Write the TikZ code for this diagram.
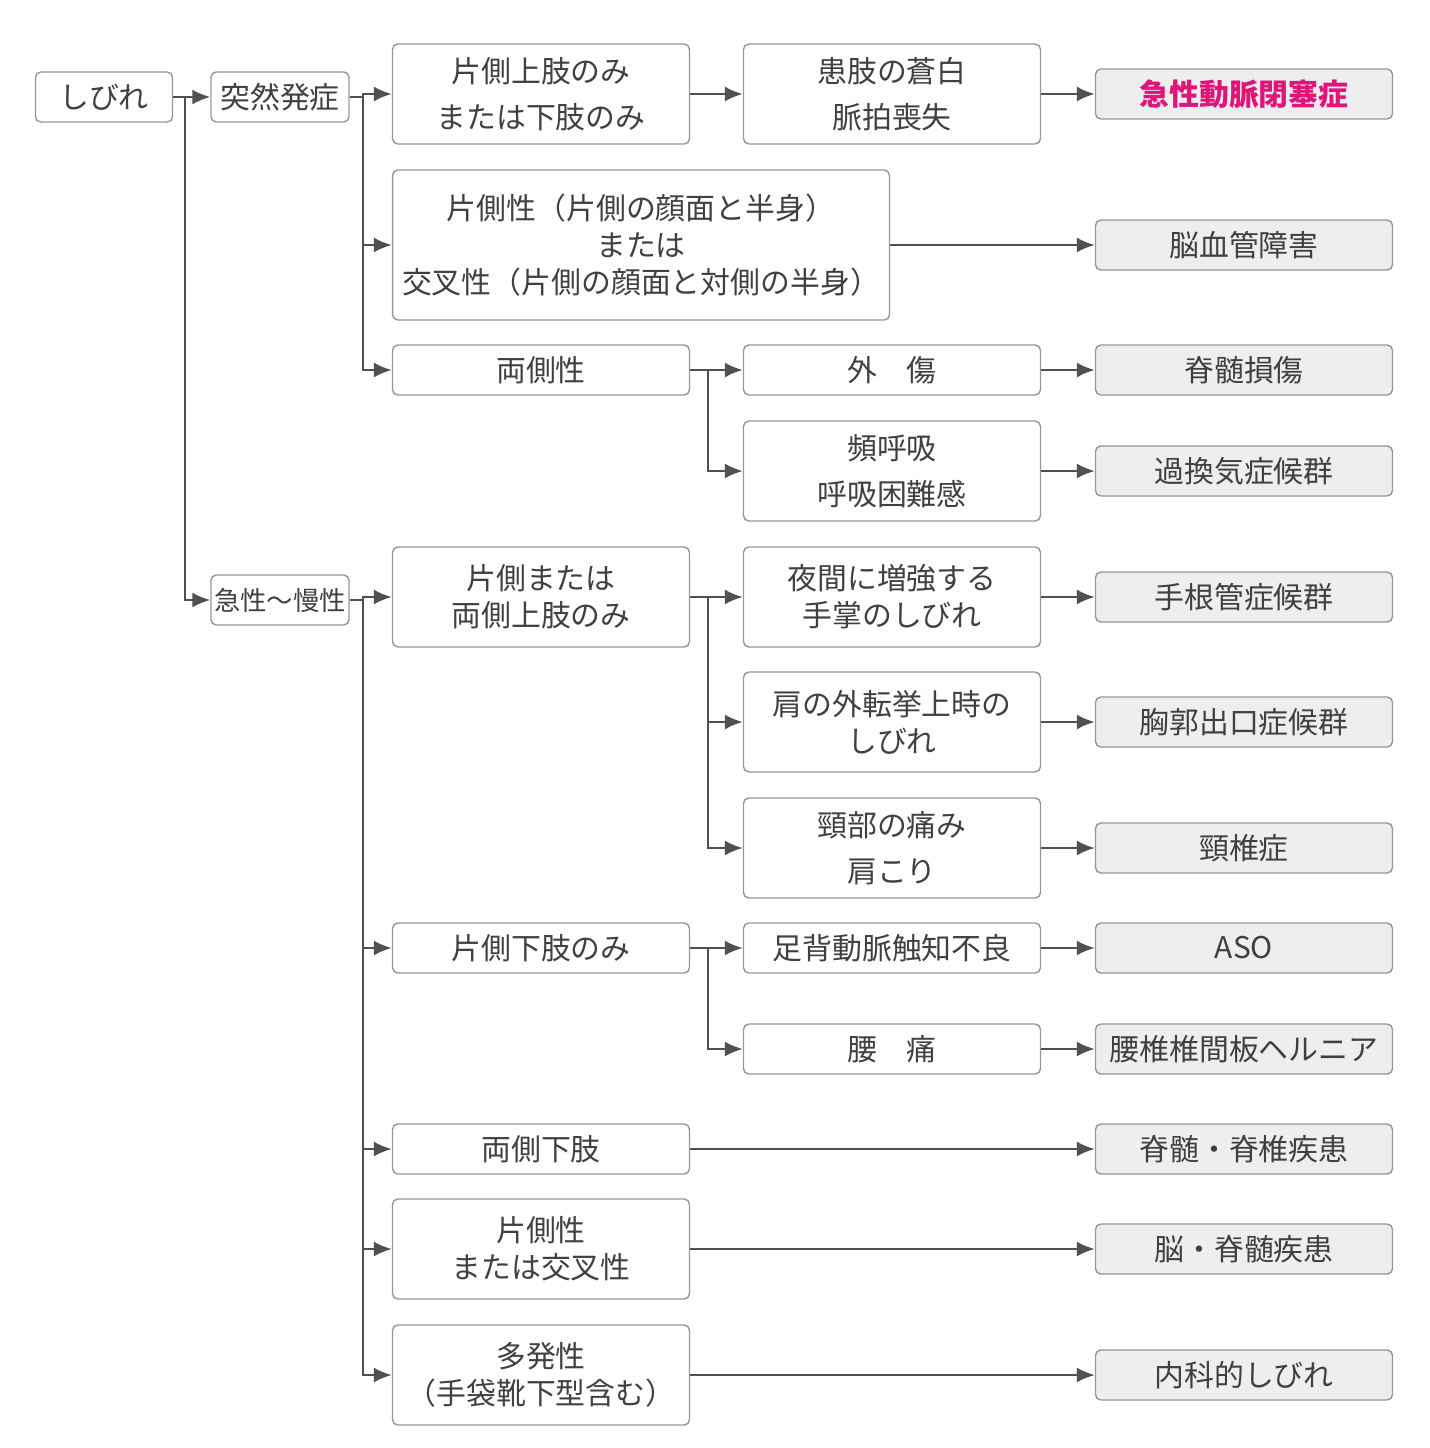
\documentclass[tikz,border=0pt]{standalone}
\usepackage{fontspec}
\setmainfont{Noto Sans CJK JP}
\usetikzlibrary{arrows.meta}
\definecolor{linegray}{RGB}{80,80,80}
\definecolor{boxgray}{RGB}{150,150,150}
\definecolor{resfill}{RGB}{238,238,238}
\definecolor{alert}{RGB}{224,21,122}
\tikzset{
	box/.style={rectangle, draw=boxgray, thick, rounded corners=3pt, align=center, text=black!75, font=\fontsize{17}{26}\selectfont},
	colbox/.style={box, minimum width=5.94cm, minimum height=1cm},
	tallbox/.style={colbox, minimum height=2cm},
	resbox/.style={colbox, fill=resfill},
	arr/.style={-{Latex[length=3.6mm,width=3mm]}, linegray, line width=1.3pt}
}
\begin{document}
\begin{tikzpicture}[x=0.02cm, y=-0.02cm]
		\useasboundingbox (0,0) rectangle (1430,1448);
		\node[box, minimum width=2.74cm, minimum height=1cm] at (104,97) (root) {しびれ};
		\node[box, minimum width=2.76cm, minimum height=1cm, inner sep=1pt] at (280,97) (sudden) {突然発症};
		\node[box, minimum width=2.76cm, minimum height=1cm, inner sep=1pt, font=\fontsize{15}{20}\selectfont] at (280,600) (chronic) {急性〜慢性};
		%second column
		\node[tallbox] at (541,94) (limb) {片側上肢のみ\\または下肢のみ};
		\node[box, minimum width=9.94cm, minimum height=3cm, font=\fontsize{17}{21}\selectfont] at (641,245) (hemi) {片側性（片側の顔面と半身）\\または\\交叉性（片側の顔面と対側の半身）};
		\node[colbox] at (541,370) (bilat) {両側性};
		\node[tallbox, font=\fontsize{17}{21}\selectfont] at (541,597) (upper) {片側または\\両側上肢のみ};
		\node[colbox] at (541,948) (lower) {片側下肢のみ};
		\node[colbox] at (541,1149) (bilower) {両側下肢};
		\node[tallbox, font=\fontsize{17}{21}\selectfont] at (541,1249) (cross) {片側性\\または交叉性};
		\node[tallbox, font=\fontsize{17}{21}\selectfont] at (541,1375) (multi) {多発性\\（手袋靴下型含む）};
		%third column
		\node[tallbox] at (892,94) (pale) {患肢の蒼白\\脈拍喪失};
		\node[colbox] at (892,370) (trauma) {外\quad 傷};
		\node[tallbox] at (892,471) (breath) {頻呼吸\\呼吸困難感};
		\node[tallbox, font=\fontsize{17}{21}\selectfont] at (892,597) (night) {夜間に増強する\\手掌のしびれ};
		\node[tallbox, font=\fontsize{17}{21}\selectfont] at (892,722) (shoulder) {肩の外転挙上時の\\しびれ};
		\node[tallbox] at (892,848) (neck) {頸部の痛み\\肩こり};
		\node[colbox] at (892,948) (pulse) {足背動脈触知不良};
		\node[colbox] at (892,1049) (lumbago) {腰\quad 痛};
		%results
		\node[resbox, text=alert, font=\fontsize{17}{21}\bfseries] at (1244,94) (r1) {急性動脈閉塞症};
		\node[resbox] at (1244,245) (r2) {脳血管障害};
		\node[resbox] at (1244,370) (r3) {脊髄損傷};
		\node[resbox] at (1244,471) (r4) {過換気症候群};
		\node[resbox] at (1244,597) (r5) {手根管症候群};
		\node[resbox] at (1244,722) (r6) {胸郭出口症候群};
		\node[resbox] at (1244,848) (r7) {頸椎症};
		\node[resbox] at (1244,948) (r8) {ASO};
		\node[resbox] at (1244,1049) (r9) {腰椎椎間板ヘルニア};
		\node[resbox] at (1244,1149) (r10) {脊髄・脊椎疾患};
		\node[resbox] at (1244,1249) (r11) {脳・脊髄疾患};
		\node[resbox] at (1244,1375) (r12) {内科的しびれ};
		%Lines
		\draw[arr] (root) -- (sudden);
		\draw[arr] (root.east) -- +(12,0) |- (chronic);
		\foreach \t in {limb,hemi,bilat}
			\draw[arr] (sudden.east) -- +(13,0) |- (\t.west);
		\foreach \t in {upper,lower,bilower,cross,multi}
			\draw[arr] (chronic.east) -- +(13,0) |- (\t.west);
		\draw[arr] (limb) -- (pale);
		\foreach \t in {trauma,breath}
			\draw[arr] (bilat.east) -- +(18,0) |- (\t.west);
		\foreach \t in {night,shoulder,neck}
			\draw[arr] (upper.east) -- +(18,0) |- (\t.west);
		\foreach \t in {pulse,lumbago}
			\draw[arr] (lower.east) -- +(18,0) |- (\t.west);
		\draw[arr] (pale) -- (r1);
		\draw[arr] (hemi) -- (r2);
		\draw[arr] (trauma) -- (r3);
		\draw[arr] (breath) -- (r4);
		\draw[arr] (night) -- (r5);
		\draw[arr] (shoulder) -- (r6);
		\draw[arr] (neck) -- (r7);
		\draw[arr] (pulse) -- (r8);
		\draw[arr] (lumbago) -- (r9);
		\draw[arr] (bilower) -- (r10);
		\draw[arr] (cross) -- (r11);
		\draw[arr] (multi) -- (r12);
	\end{tikzpicture}
\end{document}
